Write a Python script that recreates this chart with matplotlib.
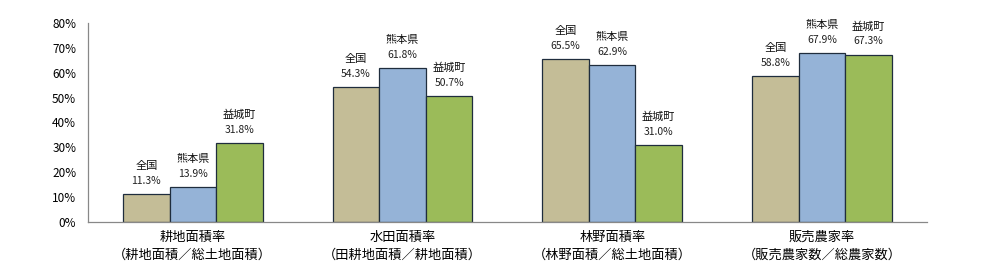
import matplotlib
matplotlib.use("Agg")
import matplotlib.pyplot as plt
from matplotlib.ticker import FuncFormatter
import numpy as np

plt.rcParams['font.family'] = ['Noto Sans CJK JP', 'DejaVu Sans']

categories = ["耕地面積率\n（耕地面積／総土地面積）",
              "水田面積率\n（田耕地面積／耕地面積）",
              "林野面積率\n（林野面積／総土地面積）",
              "販売農家率\n（販売農家数／総農家数）"]
series_names = ["全国", "熊本県", "益城町"]
zenkoku = [11.3, 54.3, 65.5, 58.8]
kumamoto = [13.9, 61.8, 62.9, 67.9]
mashiki = [31.8, 50.7, 31.0, 67.3]
colors = ["#C4BD97", "#95B3D7", "#9BBB59"]

fig = plt.figure(figsize=(9.81, 2.73), dpi=100)
ax = fig.add_axes([0.0897, 0.187, 0.855, 0.729])

x = np.arange(len(categories))
w = 0.222
for i, (name, vals) in enumerate(zip(series_names, [zenkoku, kumamoto, mashiki])):
    bars = ax.bar(x + (i - 1) * w, vals, w, color=colors[i], edgecolor="#1F2D3D", linewidth=0.9)
    for bar, v in zip(bars, vals):
        cx = bar.get_x() + bar.get_width() / 2
        # value label, then series name above it
        ax.annotate(f"{v:.1f}%", (cx, v), xytext=(0, 9.4), textcoords="offset points",
                    ha="center", va="center", fontsize=7.5, color="#222222")
        ax.annotate(name, (cx, v), xytext=(0, 20.2), textcoords="offset points",
                    ha="center", va="center", fontsize=8, color="#111111")

ax.set_xlim(-0.5, 3.5)
ax.set_ylim(0, 80)
ax.set_yticks(range(0, 81, 10))
ax.yaxis.set_major_formatter(FuncFormatter(lambda v, p: f"{int(v)}%"))
ax.set_xticks(x)
ax.set_xticklabels(categories, fontsize=9.5, linespacing=1.45)
ax.tick_params(axis="both", length=0)
ax.tick_params(axis="y", labelsize=8.5, pad=8.5)
ax.tick_params(axis="x", pad=6.5)
for s in ["top", "right"]:
    ax.spines[s].set_visible(False)
for s in ["left", "bottom"]:
    ax.spines[s].set_color("#888888")
    ax.spines[s].set_linewidth(0.9)

plt.savefig("out.png", dpi=100)
plt.close()
